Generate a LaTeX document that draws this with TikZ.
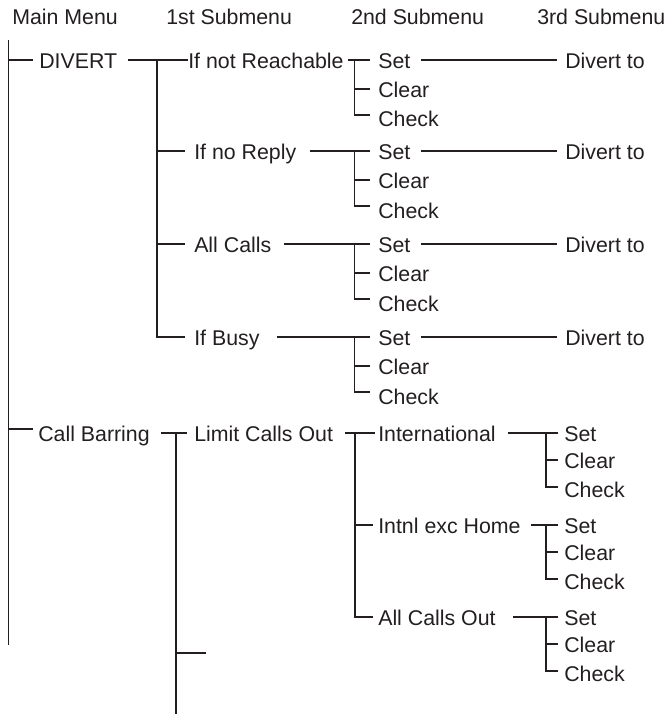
\documentclass[tikz,border=0pt]{standalone}
\usepackage{fontspec}
\setmainfont{Liberation Sans}
\usetikzlibrary{calc}
\definecolor{ink}{HTML}{231F20}
\begin{document}
\begin{tikzpicture}[x=0.75pt,y=-0.75pt,
  lbl/.style={font=\fontsize{16pt}{19pt}\selectfont,text=ink,inner sep=0pt,anchor=west,text height=12pt,text depth=0pt},
  ln/.style={draw=ink,line width=1.3pt}]
\useasboundingbox (0,0) rectangle (669,714);
% headers
\node[lbl] (h0) at (12,16) {Main Menu};
\node[lbl] (h1) at (166,16) {1st Submenu};
\node[lbl] (h2) at (351,16) {2nd Submenu};
\node[lbl] (h3) at (537,16) {3rd Submenu};
% main menu
\coordinate (m0) at (8.5,40);
\coordinate (m1) at (8.5,645);
\draw[ln] (m0) -- (m1);
\node[lbl] (divert) at (39,60) {DIVERT};
\node[lbl] (cb) at (38,433) {Call Barring};
\draw[ln] (m0 |- divert.west) -- ++(24,0);
\draw[ln] ($(m0 |- cb.west)+(0,-4)$) -- ++(24.5,0);
% 1st submenu (DIVERT)
\coordinate (p0) at (157,60);
\coordinate (p1) at (157,337);
\node[lbl] (nr) at (188,60) {If not Reachable};
\node[lbl] (nrep) at (194,151) {If no Reply};
\node[lbl] (allc) at (194,244) {All Calls};
\node[lbl] (busy) at (194,337) {If Busy};
\draw[ln] (divert.east) ++(11,0) -- (nr.west);
\draw[ln] (p0) -- (p1) -- ++(28,0);
\draw[ln] (p0 |- nrep.west) -- ++(28,0);
\draw[ln] (p0 |- allc.west) -- ++(28,0);
% group 1
\coordinate (q1t) at (354.5,60); \coordinate (q1b) at (354.5,115);
\node[lbl] (s1) at (378,60) {Set};
\node[lbl] (c1) at (378,89) {Clear};
\node[lbl] (k1) at (378,118) {Check};
\node[lbl] (d1) at (565,60) {Divert to};
\draw[ln] (nr.east) ++(4,0) -- ($(s1.west)+(-8,0)$);
\draw[ln] (q1t) -- (q1b) -- ++(15.5,0);
\draw[ln] (q1t |- c1.west) -- ++(15.5,0);
\draw[ln] (s1.east) ++(10,0) -- ($(d1.west)+(-8,0)$);
% group 2
\coordinate (q2t) at (354.5,151); \coordinate (q2b) at (354.5,206);
\node[lbl] (s2) at (378,151) {Set};
\node[lbl] (c2) at (378,180) {Clear};
\node[lbl] (k2) at (378,210) {Check};
\node[lbl] (d2) at (565,151) {Divert to};
\draw[ln] (nrep.east) ++(13,0) -- ($(s2.west)+(-8,0)$);
\draw[ln] (q2t) -- (q2b) -- ++(15.5,0);
\draw[ln] (q2t |- c2.west) -- ++(15.5,0);
\draw[ln] (s2.east) ++(10,0) -- ($(d2.west)+(-8,0)$);
% group 3
\coordinate (q3t) at (354.5,244); \coordinate (q3b) at (354.5,299);
\node[lbl] (s3) at (378,244) {Set};
\node[lbl] (c3) at (378,273) {Clear};
\node[lbl] (k3) at (378,303) {Check};
\node[lbl] (d3) at (565,244) {Divert to};
\draw[ln] (allc.east) ++(12,0) -- ($(s3.west)+(-8,0)$);
\draw[ln] (q3t) -- (q3b) -- ++(15.5,0);
\draw[ln] (q3t |- c3.west) -- ++(15.5,0);
\draw[ln] (s3.east) ++(10,0) -- ($(d3.west)+(-8,0)$);
% group 4
\coordinate (q4t) at (354.5,337); \coordinate (q4b) at (354.5,392);
\node[lbl] (s4) at (378,337) {Set};
\node[lbl] (c4) at (378,366) {Clear};
\node[lbl] (k4) at (378,396) {Check};
\node[lbl] (d4) at (565,337) {Divert to};
\draw[ln] (busy.east) ++(17,0) -- ($(s4.west)+(-8,0)$);
\draw[ln] (q4t) -- (q4b) -- ++(15.5,0);
\draw[ln] (q4t |- c4.west) -- ++(15.5,0);
\draw[ln] (s4.east) ++(10,0) -- ($(d4.west)+(-8,0)$);
% 1st submenu (Call Barring)
\coordinate (u0) at (176,433);
\coordinate (u1) at (176,714);
\node[lbl] (lim) at (194,433) {Limit Calls Out};
\draw[ln] (cb.east) ++(11,0) -- ($(lim.west)+(-7,0)$);
\draw[ln] (u0) -- (u1);
\draw[ln] (176,653) -- ++(30,0);
% 2nd submenu (Limit Calls Out)
\coordinate (v0) at (355,433);
\coordinate (v1) at (355,617);
\node[lbl] (intl) at (378,433) {International};
\node[lbl] (ieh) at (378,525) {Intnl exc Home};
\node[lbl] (aco) at (378,617) {All Calls Out};
\draw[ln] (lim.east) ++(12,0) -- ($(intl.west)+(-3,0)$);
\draw[ln] (v0) -- (v1) -- ++(18,0);
\draw[ln] (v0 |- ieh.west) -- ++(18,0);
% group 5
\coordinate (w5t) at (546,433); \coordinate (w5b) at (546,487);
\node[lbl] (s5) at (564,433) {Set};
\node[lbl] (c5) at (564,460) {Clear};
\node[lbl] (k5) at (564,489) {Check};
\draw[ln] (intl.east) ++(12,0) -- ($(s5.west)+(-6,0)$);
\draw[ln] (w5t) -- (w5b) -- ++(12,0);
\draw[ln] (w5t |- c5.west) -- ++(12,0);
% group 6
\coordinate (w6t) at (546,525); \coordinate (w6b) at (546,579);
\node[lbl] (s6) at (564,525) {Set};
\node[lbl] (c6) at (564,552) {Clear};
\node[lbl] (k6) at (564,581) {Check};
\draw[ln] (ieh.east) ++(10,0) -- ($(s6.west)+(-6,0)$);
\draw[ln] (w6t) -- (w6b) -- ++(12,0);
\draw[ln] (w6t |- c6.west) -- ++(12,0);
% group 7
\coordinate (w7t) at (546,617); \coordinate (w7b) at (546,671);
\node[lbl] (s7) at (564,617) {Set};
\node[lbl] (c7) at (564,644) {Clear};
\node[lbl] (k7) at (564,673) {Check};
\draw[ln] (aco.east) ++(17,0) -- ($(s7.west)+(-6,0)$);
\draw[ln] (w7t) -- (w7b) -- ++(12,0);
\draw[ln] (w7t |- c7.west) -- ++(12,0);
\end{tikzpicture}
\end{document}
